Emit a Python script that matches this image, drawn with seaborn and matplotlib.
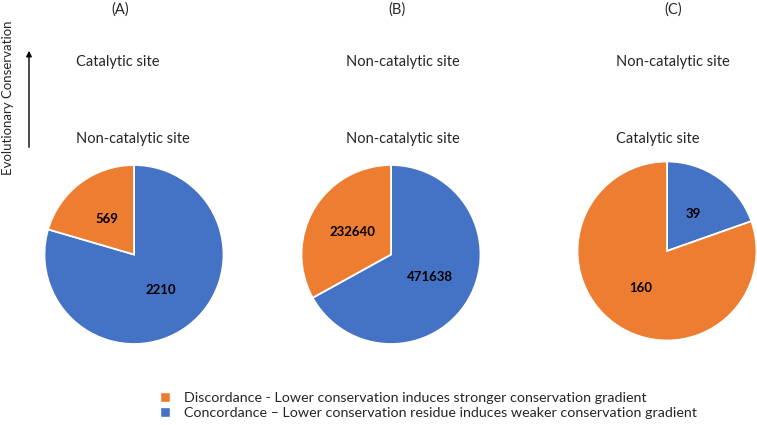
import matplotlib.pyplot as plt
import seaborn as sns
from matplotlib.patches import Patch, FancyArrowPatch

# data
panels = ['(A)', '(B)', '(C)']
upper_site = ['Catalytic site', 'Non-catalytic site', 'Non-catalytic site']
lower_site = ['Non-catalytic site', 'Non-catalytic site', 'Catalytic site']
concordance = [2210, 471638, 39]
discordance = [569, 232640, 160]
legend_labels = ['Discordance - Lower conservation induces stronger conservation gradient',
                 'Concordance \u2013 Lower conservation residue induces weaker conservation gradient']

sns.set_theme(style='white')
plt.rcParams['font.family'] = ['Lato', 'DejaVu Sans']

blue = '#4472C4'
orange = '#ED7D31'

W, H = 757, 425
fig = plt.figure(figsize=(W / 100, H / 100), dpi=100)

# pie centres (px) and radius
centres = [(134, 254.5), (391, 254.5), (667, 251)]
r = 89.5
text_left = [76, 346, 616]
title_x = [120, 397, 673]

for i in range(3):
    cx, cy = centres[i]
    ax = fig.add_axes([(cx - r) / W, (H - cy - r) / H, 2 * r / W, 2 * r / H])
    vals = [concordance[i], discordance[i]]
    tot = sum(vals)
    wedges, texts, autotexts = ax.pie(
        vals, colors=[blue, orange], startangle=90, counterclock=False,
        autopct=lambda p, t=tot: f'{round(p * t / 100):d}', pctdistance=0.5,
        wedgeprops=dict(edgecolor='white', linewidth=1.3))
    for t in autotexts:
        t.set_fontsize(9.5)
        t.set_fontweight('bold')
        t.set_color('black')
    ax.set_xlim(-1, 1)
    ax.set_ylim(-1, 1)
    ax.set_aspect('equal')

    fig.text(title_x[i] / W, 1 - 10 / H, panels[i], ha='center', va='center', fontsize=10.5)
    fig.text(text_left[i] / W, 1 - 62 / H, upper_site[i], ha='left', va='center', fontsize=10.5)
    fig.text(text_left[i] / W, 1 - 139 / H, lower_site[i], ha='left', va='center', fontsize=10.5)

# arrow and axis label
fig.patches.append(FancyArrowPatch(
    (29 / W, 1 - 150 / H), (29 / W, 1 - 48 / H), transform=fig.transFigure,
    arrowstyle='-|>', mutation_scale=8, color='black', linewidth=1))
fig.text(8 / W, 1 - 98 / H, 'Evolutionary Conservation', rotation=90,
         ha='center', va='center', fontsize=9.5)

handles = [Patch(facecolor=orange), Patch(facecolor=blue)]
fig.legend(handles, legend_labels, loc='center left', bbox_to_anchor=(160 / W, 1 - 405.5 / H),
           frameon=False, fontsize=10.3, handlelength=0.7, handleheight=0.7,
           handletextpad=0.95, labelspacing=0.25, borderpad=0, borderaxespad=0)

fig.savefig('out.png', dpi=100)
